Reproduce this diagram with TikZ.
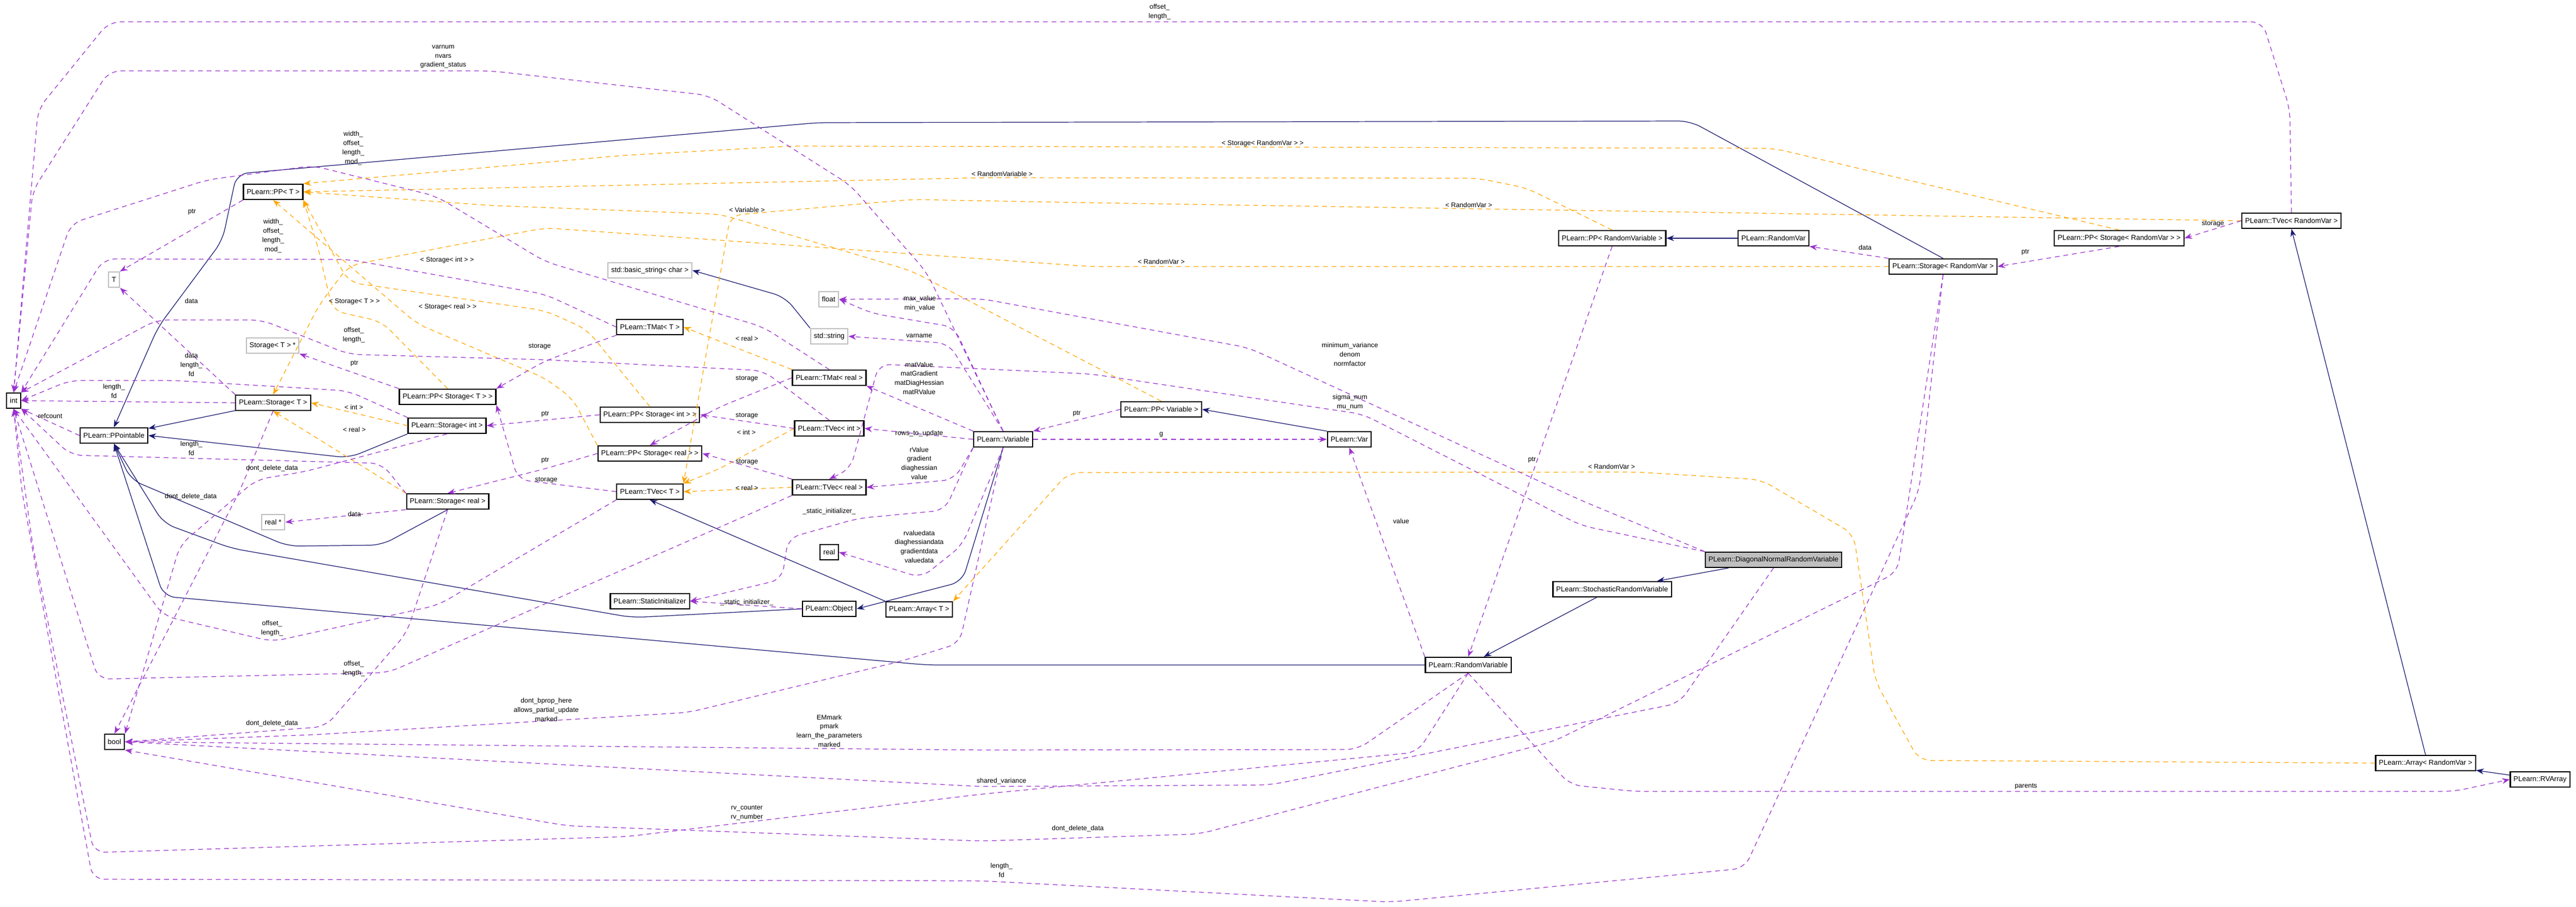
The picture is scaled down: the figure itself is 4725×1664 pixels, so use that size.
\documentclass[tikz,border=0pt]{standalone}
\usepackage{fontspec}
\setmainfont{Liberation Sans}
\usetikzlibrary{arrows.meta}
\definecolor{inhcol}{HTML}{191970}
\definecolor{usecol}{HTML}{9A32CD}
\definecolor{tplcol}{HTML}{FFA500}
\tikzstyle{cls} = [rectangle, draw=black, line width=0.6pt, fill=white, minimum height=0.28cm, inner xsep=0.06cm, inner ysep=0.02cm, font=\fontsize{3.7}{4.4}\selectfont]
\tikzstyle{ext} = [cls, draw=black!25]
\tikzstyle{cur} = [cls, fill=black!25]
\tikzstyle{lbl} = [align=center, inner sep=0pt, font=\fontsize{3.5}{4.8}\selectfont]
\tikzstyle{edge} = [line width=0.35pt, rounded corners=6pt, ->, >={Stealth[length=4pt,width=3pt]}]
\tikzstyle{inh} = [edge, draw=inhcol, >={Stealth[length=4pt,width=3pt,inhcol]}]
\tikzstyle{use} = [edge, draw=usecol, dashed, dash pattern=on 2.5pt off 2pt]
\tikzstyle{tpl} = [edge, draw=tplcol, dashed, dash pattern=on 2.5pt off 2pt]

\begin{document}
\begin{tikzpicture}[x=0.01cm, y=-0.01cm]
\useasboundingbox (0,0) rectangle (4725,1664);
% classes
\node (int) [cls] at (25,735) {int};
\node (ppointable) [cls] at (209,799) {PLearn::PPointable};
\node (bool) [cls] at (210,1361) {bool};
\node (T) [ext] at (209,513) {T};
\node (ppT) [cls] at (501,352) {PLearn::PP< T >};
\node (storTptr) [ext] at (500,634) {Storage< T > *};
\node (storT) [cls] at (501,739) {PLearn::Storage< T >};
\node (storReal) [cls] at (821,920) {PLearn::Storage< real >};
\node (realptr) [ext] at (501,958) {real *};
\node (ppStorT) [cls] at (821,728) {PLearn::PP< Storage< T > >};
\node (storInt) [cls] at (820,781) {PLearn::Storage< int >};
\node (basicstr) [ext] at (1192,496) {std::basic\_string< char >};
\node (tmatT) [cls] at (1192,600) {PLearn::TMat< T >};
\node (ppStorInt) [cls] at (1192,761) {PLearn::PP< Storage< int > >};
\node (ppStorReal) [cls] at (1192,832) {PLearn::PP< Storage< real > >};
\node (tvecT) [cls] at (1192,902) {PLearn::TVec< T >};
\node (staticinit) [cls] at (1192,1103) {PLearn::StaticInitializer};
\node (float) [ext] at (1520,549) {float};
\node (stdstr) [ext] at (1521,617) {std::string};
\node (tmatReal) [cls] at (1521,693) {PLearn::TMat< real >};
\node (tvecInt) [cls] at (1521,786) {PLearn::TVec< int >};
\node (tvecReal) [cls] at (1521,894) {PLearn::TVec< real >};
\node (real) [cls] at (1521,1013) {real};
\node (object) [cls] at (1521,1117) {PLearn::Object};
\node (arrayT) [cls] at (1686,1118) {PLearn::Array< T >};
\node (variable) [cls] at (1840,806) {PLearn::Variable};
\node (ppVariable) [cls] at (2130,751) {PLearn::PP< Variable >};
\node (var) [cls] at (2475,806) {PLearn::Var};
\node (ppRV) [cls] at (2957,437) {PLearn::PP< RandomVariable >};
\node (randomVar) [cls] at (3253,437) {PLearn::RandomVar};
\node (storRV) [cls] at (3564,489) {PLearn::Storage< RandomVar >};
\node (ppStorRV) [cls] at (3887,437) {PLearn::PP< Storage< RandomVar > >};
\node (tvecRV) [cls] at (4203,405) {PLearn::TVec< RandomVar >};
\node (diag) [cur] at (3253,1027) {PLearn::DiagonalNormalRandomVariable};
\node (stoch) [cls] at (2957,1081) {PLearn::StochasticRandomVariable};
\node (randVar) [cls] at (2693,1220) {PLearn::RandomVariable};
\node (arrayRV) [cls] at (4449,1400) {PLearn::Array< RandomVar >};
\node (rvarray) [cls] at (4659,1430) {PLearn::RVArray};

% inheritance
\draw [inh] (storT) -- (ppointable);
\draw [inh] (storInt.south west) -- (640,840) -- (ppointable.east);
\draw [inh] (storReal.south) -- (700,1000) -- (528,1002) -- (240,880) -- (ppointable.south);
\draw [inh] (storRV.north) -- (3100,222) -- (1500,225) -- (434,319) -- (408,441) -- (290,600) -- (ppointable.north);
\draw [inh] (object.west) -- (1160,1133) -- (425,1006) -- (300,960) -- (ppointable.south);
\draw [inh] (randVar.west) -- (1700,1220) -- (300,1094) -- (ppointable.south);
\draw [inh] (variable.south) -- (1765,1067) -- (object.east);
\draw [inh] (arrayT.north west) -- (tvecT.south);
\draw [inh] (var.north west) -- (ppVariable.east);
\draw [inh] (randomVar) -- (ppRV);
\draw [inh] (stdstr.north west) -- (1440,545) -- (basicstr.east);
\draw [inh] (diag) -- (stoch);
\draw [inh] (stoch) -- (randVar);
\draw [inh] (arrayRV.north) -- (tvecRV.south);
\draw [inh] (rvarray) -- (arrayRV);

% templates
\draw [tpl] (ppStorT.north) -- (700,590) -- (610,570) -- (585,460) -- (ppT.south east);
\draw [tpl] (ppStorInt.north) -- (1076,604) -- (1000,570) -- (640,518) -- (ppT.south east);
\draw [tpl] (ppStorReal.north west) -- (1051,732) -- (1000,694) -- (765,594) -- (ppT.south);
\draw [tpl] (ppVariable.north) -- (1672,497) -- (1321,393) -- (900,377) -- (ppT.east);
\draw [tpl] (ppRV.north) -- (2800,345) -- (2711,327) -- (1807,326) -- (ppT.east);
\draw [tpl] (ppStorRV.north) -- (3253,272) -- (1450,268) -- (1145,285) -- (ppT.north east);
\draw [tpl] (tvecRV.west) -- (2000,372) -- (1672,366) -- (1340,395) -- (tvecT.north east);
\draw [tpl] (storRV.west) -- (2000,489) -- (1000,418) -- (640,487) -- (585,560) -- (storT.north);
\draw [tpl] (storInt.west) -- (storT.east);
\draw [tpl] (storReal.north west) -- (storT.south);
\draw [tpl] (tmatReal.north west) -- (tmatT.east);
\draw [tpl] (tvecInt.west) -- (1320,860) -- (tvecT.north east);
\draw [tpl] (tvecReal.west) -- (tvecT.east);
\draw [tpl] (arrayRV.west) -- (3520,1395) -- (3440,1250) -- (3400,980) -- (3230,880) -- (3000,866) -- (1960,867) -- (arrayT.north east);

% members
\draw [use] (ppT.south west) -- (T.north east);
\draw [use] (storT.north west) -- (T.south east);
\draw [use] (storT.west) -- (int.east);
\draw [use] (storT.south) -- (440,900) -- (bool.north);
\draw [use] (ppointable.west) -- (int.south east);
\draw [use] (ppStorT.north west) -- (storTptr.south east);
\draw [use] (tmatT.west) -- (1000,540) -- (640,476) -- (190,475) -- (int.north east);
\draw [use] (tmatT.south west) -- (1000,662) -- (ppStorT.north east);
\draw [use] (tvecT.west) -- (950,880) -- (ppStorT.south east);
\draw [use] (tvecInt.north) -- (1400,680) -- (1000,660) -- (640,650) -- (480,587) -- (287,587) -- (int.north east);
\draw [use] (tvecT.south west) -- (804,1110) -- (500,1177) -- (300,1130) -- (int.south);
\draw [use] (tvecReal.south west) -- (712,1234) -- (180,1246) -- (int.south);
\draw [use] (tmatReal.north) -- (1400,600) -- (1000,480) -- (800,360) -- (574,304) -- (380,330) -- (130,410) -- (int.north);
\draw [use] (ppStorInt.west) -- (storInt.east);
\draw [use] (ppStorReal.west) -- (1000,860) -- (storReal.north);
\draw [use] (tmatReal.west) -- (1319,747) -- (ppStorReal.north);
\draw [use] (tvecInt.west) -- (ppStorInt.east);
\draw [use] (tvecReal.north west) -- (ppStorReal.east);
\draw [use] (storInt.north west) -- (638,717) -- (319,698) -- (128,698) -- (int.east);
\draw [use] (storInt.south) -- (560,865) -- (470,880) -- (330,1000) -- (bool.north east);
\draw [use] (storReal.north west) -- (700,850) -- (130,835) -- (int.south east);
\draw [use] (storReal.south west) -- (realptr.east);
\draw [use] (storReal.south) -- (746,1161) -- (597,1333) -- (bool.east);
\draw [use] (variable.north) -- (1750,600) -- (1600,575) -- (float.east);
\draw [use] (variable.north) -- (1740,630) -- (stdstr.east);
\draw [use] (variable.north west) -- (tmatReal.south east);
\draw [use] (variable.west) -- (tvecInt.east);
\draw [use] (variable.south west) -- (1750,880) -- (tvecReal.east);
\draw [use] (variable.south) -- (1765,1000) -- (1690,1060) -- (real.east);
\draw [use] (variable.south west) -- (1733,936) -- (1574,951) -- (1446,987) -- (1434,1063) -- (staticinit.east);
\draw [use] (object.west) -- (staticinit.east);
\draw [use] (variable.north) -- (1700,500) -- (1560,340) -- (1300,175) -- (900,130) -- (200,130) -- (60,350) -- (int.north);
\draw [use] (tvecRV.north) -- (4200,200) -- (4150,40) -- (3900,40) -- (200,40) -- (70,200) -- (int.north);
\draw [use] (variable.south) -- (1760,1180) -- (1653,1213) -- (1263,1307) -- (574,1348) -- (bool.east);
\draw [use] (ppVariable.west) -- (variable.north east);
\draw [use] (variable.east) -- (var.west);
\draw [use] (storRV.north west) -- (randomVar.south east);
\draw [use] (ppStorRV.south) -- (storRV.east);
\draw [use] (tvecRV.west) -- (ppStorRV.east);
\draw [use] (storRV.south) -- (3520,900) -- (3200,1593) -- (2550,1655) -- (1800,1616) -- (170,1613) -- (40,900) -- (int.south);
\draw [use] (storRV.south) -- (3480,1050) -- (2850,1360) -- (2200,1530) -- (1800,1543) -- (1040,1515) -- (bool.south east);
\draw [use] (diag.south) -- (3080,1290) -- (2330,1440) -- (1800,1443) -- (bool.east);
\draw [use] (randVar.south) -- (2490,1375) -- (1800,1376) -- (bool.east);
\draw [use] (randVar.south) -- (2600,1380) -- (1800,1457) -- (1148,1535) -- (172,1564) -- (60,1000) -- (int.south);
\draw [use] (randVar.south) -- (2880,1440) -- (3000,1452) -- (4500,1452) -- (rvarray.west);
\draw [use] (ppRV.south) -- (randVar.north);
\draw [use] (randVar.north west) -- (var.south);
\draw [use] (diag.north west) -- (2900,918) -- (2290,638) -- (1800,548) -- (float.east);
\draw [use] (diag.north west) -- (2900,964) -- (2500,760) -- (2000,686) -- (1612,668) -- (1560,860) -- (tvecReal.north);

% labels
\node (l1) [lbl] at (352,389) {ptr};
\node (l2) [lbl] at (351,552) {data};
\node (l3) [lbl] at (209,718) {length\_\\fd};
\node (l4) [lbl] at (350,911) {dont\_delete\_data};
\node (l5) [lbl] at (92,763) {refcount};
\node (l6) [lbl] at (650,667) {ptr};
\node (l7) [lbl] at (501,433) {width\_\\offset\_\\length\_\\mod\_};
\node (l8) [lbl] at (990,636) {storage};
\node (l9) [lbl] at (1002,881) {storage};
\node (l10) [lbl] at (649,615) {offset\_\\length\_};
\node (l11) [lbl] at (499,1153) {offset\_\\length\_};
\node (l12) [lbl] at (649,1227) {offset\_\\length\_};
\node (l13) [lbl] at (648,272) {width\_\\offset\_\\length\_\\mod\_};
\node (l14) [lbl] at (1000,760) {ptr};
\node (l15) [lbl] at (1000,845) {ptr};
\node (l16) [lbl] at (1370,695) {storage};
\node (l17) [lbl] at (1370,763) {storage};
\node (l18) [lbl] at (1370,848) {storage};
\node (l19) [lbl] at (351,669) {data\\length\_\\fd};
\node (l20) [lbl] at (499,859) {dont\_delete\_data};
\node (l21) [lbl] at (351,823) {length\_\\fd};
\node (l22) [lbl] at (650,943) {data};
\node (l23) [lbl] at (499,1327) {dont\_delete\_data};
\node (l24) [lbl] at (1687,557) {max\_value\\min\_value};
\node (l25) [lbl] at (1686,616) {varname};
\node (l26) [lbl] at (1686,694) {matValue\\matGradient\\matDiagHessian\\matRValue};
\node (l27) [lbl] at (1686,795) {rows\_to\_update};
\node (l28) [lbl] at (1686,850) {rValue\\gradient\\diaghessian\\value};
\node (l29) [lbl] at (1686,1003) {rvaluedata\\diaghessiandata\\gradientdata\\valuedata};
\node (l30) [lbl] at (1521,938) {\_static\_initializer\_};
\node (l31) [lbl] at (1370,1105) {\_static\_initializer\_};
\node (l32) [lbl] at (813,104) {varnum\\nvars\\gradient\_status};
\node (l33) [lbl] at (2127,22) {offset\_\\length\_};
\node (l34) [lbl] at (1002,1302) {dont\_bprop\_here\\allows\_partial\_update\\marked};
\node (l35) [lbl] at (1975,759) {ptr};
\node (l36) [lbl] at (2130,797) {g};
\node (l37) [lbl] at (3421,454) {data};
\node (l38) [lbl] at (3715,463) {ptr};
\node (l39) [lbl] at (4059,411) {storage};
\node (l40) [lbl] at (1837,1597) {length\_\\fd};
\node (l41) [lbl] at (1977,1520) {dont\_delete\_data};
\node (l42) [lbl] at (1837,1433) {shared\_variance};
\node (l43) [lbl] at (1521,1341) {EMmark\\pmark\\learn\_the\_parameters\\marked};
\node (l44) [lbl] at (1370,1491) {rv\_counter\\rv\_number};
\node (l45) [lbl] at (3716,1443) {parents};
\node (l46) [lbl] at (2810,844) {ptr};
\node (l47) [lbl] at (2570,956) {value};
\node (l48) [lbl] at (2476,650) {minimum\_variance\\denom\\normfactor};
\node (l49) [lbl] at (2476,738) {sigma\_num\\mu\_num};
\node (t1) [lbl] at (650,553) {< Storage< T > >};
\node (t2) [lbl] at (820,477) {< Storage< int > >};
\node (t3) [lbl] at (821,563) {< Storage< real > >};
\node (t4) [lbl] at (1370,385) {< Variable >};
\node (t5) [lbl] at (1838,319) {< RandomVariable >};
\node (t6) [lbl] at (2316,263) {< Storage< RandomVar > >};
\node (t7) [lbl] at (2694,376) {< RandomVar >};
\node (t8) [lbl] at (2130,480) {< RandomVar >};
\node (t9) [lbl] at (649,747) {< int >};
\node (t10) [lbl] at (650,788) {< real >};
\node (t11) [lbl] at (1370,621) {< real >};
\node (t12) [lbl] at (1369,793) {< int >};
\node (t13) [lbl] at (1370,895) {< real >};
\node (t14) [lbl] at (2956,856) {< RandomVar >};
\end{tikzpicture}
\end{document}
